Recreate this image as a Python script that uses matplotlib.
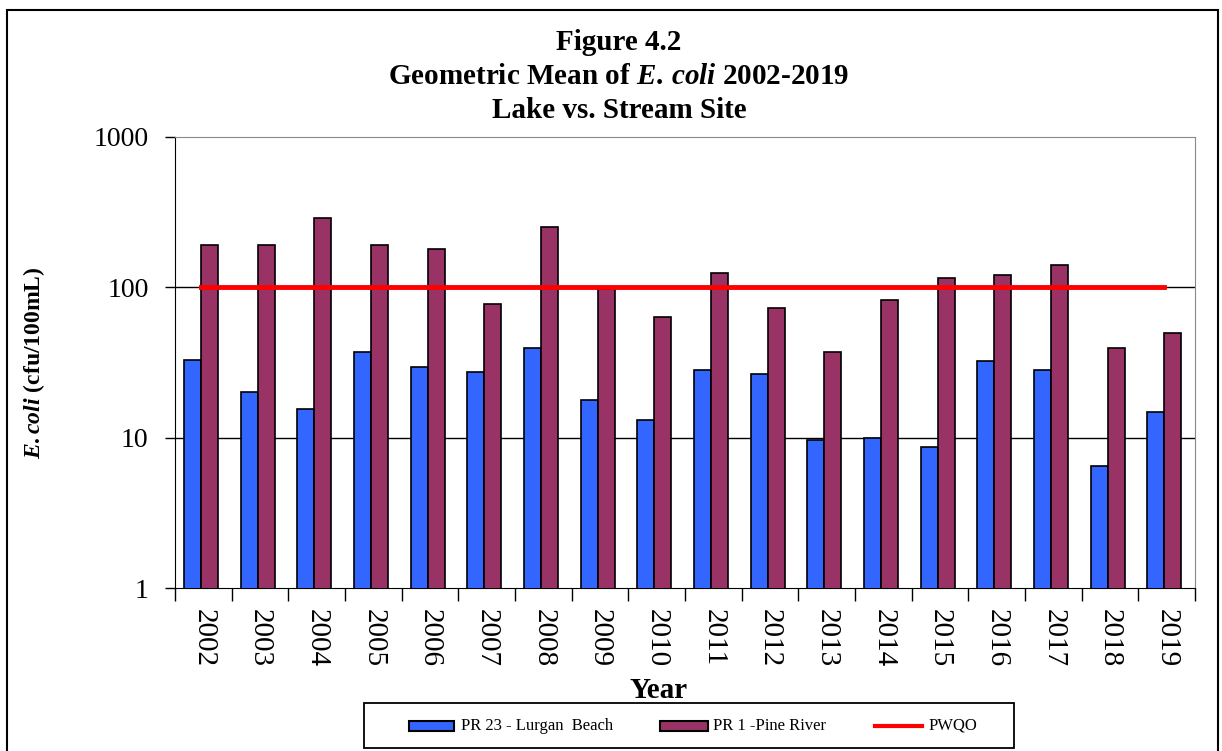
import matplotlib
matplotlib.use("Agg")
import matplotlib.pyplot as plt
import numpy as np
from matplotlib.patches import Rectangle
from matplotlib.lines import Line2D

years = [str(y) for y in range(2002, 2020)]
lurgan = [33.0, 20.0, 15.5, 37.2, 29.7, 27.4, 39.3, 17.9, 13.1, 28.1, 26.7, 9.65, 9.95, 8.63, 32.4, 28.1, 6.5, 14.8]
pine = [190, 190, 291, 190, 180, 77.2, 253, 97, 63.8, 125, 73.3, 37.3, 82.4, 115, 121.6, 140, 39.5, 49.5]
pwqo = [100] * len(years)
series_names = ['PR 23 - Lurgan  Beach', 'PR 1 -Pine River', 'PWQO']
blue, maroon, red = '#3366FF', '#993366', '#FF0000'

plt.rcParams['font.family'] = ['Liberation Serif', 'DejaVu Serif']
plt.rcParams['mathtext.fontset'] = 'custom'
plt.rcParams['mathtext.it'] = 'Liberation Serif:italic:bold'
plt.rcParams['mathtext.rm'] = 'Liberation Serif:bold'
plt.rcParams['mathtext.bf'] = 'Liberation Serif:bold'

W, H = 1222, 751
fig = plt.figure(figsize=(W / 100, H / 100), dpi=100)
ax = fig.add_axes([175 / W, 1 - 588 / H, 1020 / W, 451 / H])

def fx(px):
    return px / W

def fy(py):
    return 1 - py / H

x = np.arange(len(years))
bw = 0.3
off = -0.04
ax.bar(x + off - bw / 2, lurgan, bw, color=blue, edgecolor='black', linewidth=1.2, zorder=3)
ax.bar(x + off + bw / 2, pine, bw, color=maroon, edgecolor='black', linewidth=1.2, zorder=3)
ax.plot(x + off, pwqo, color=red, linewidth=3.5, zorder=4)

ax.set_yscale('log')
ax.set_ylim(1, 1000)
ax.set_xlim(-0.5, len(years) - 0.5)
ax.set_yticks([1, 10, 100, 1000])
ax.set_yticklabels(['1', '10', '100', '1000'])
ax.yaxis.set_minor_locator(matplotlib.ticker.NullLocator())
ax.tick_params(axis='y', labelsize=20, length=7, width=1, direction='out', pad=12)
for v in [10, 100]:
    ax.axhline(v, color='black', linewidth=1, zorder=1)

ax.set_xticks(x)
ax.set_xticklabels(years, rotation=-90, fontsize=21)
ax.tick_params(axis='x', length=0, pad=15)
ax.set_xticks(np.arange(-0.5, len(years), 1), minor=True)
ax.tick_params(axis='x', which='minor', length=9, width=1, direction='out')

for s in ['top', 'right']:
    ax.spines[s].set_color('#888888')
ax.spines['left'].set_color('black')
ax.spines['bottom'].set_color('black')

ax.set_ylabel(r'$\mathit{E.coli}$ (cfu/100mL)', fontsize=17, fontweight='bold')
ax.yaxis.set_label_coords(-0.125, 0.5)
fig.text(fx(659), fy(690), 'Year', ha='center', va='center', fontsize=21, fontweight='bold')

tc = fx(619)
fig.text(tc, fy(43), 'Figure 4.2', ha='center', va='center', fontsize=21, fontweight='bold')
fig.text(tc, fy(76), r'Geometric Mean of $\mathit{E.\,coli}$ 2002-2019', ha='center', va='center', fontsize=21, fontweight='bold')
fig.text(tc, fy(111), 'Lake vs. Stream Site', ha='center', va='center', fontsize=21, fontweight='bold')

# legend box (manual layout)
fig.patches.append(Rectangle((fx(364), fy(748)), fx(1014) - fx(364), fy(703) - fy(748),
                             transform=fig.transFigure, fill=True, facecolor='white',
                             edgecolor='black', linewidth=1.3, zorder=5))
ly = 726
for (x0, x1, tx), col, name, kind in zip([(409, 454, 461), (660, 708, 713), (875, 922, 929)],
                                          [blue, maroon, red], series_names, ['bar', 'bar', 'line']):
    if kind == 'bar':
        fig.patches.append(Rectangle((fx(x0), fy(ly + 5)), fx(x1) - fx(x0), fy(ly - 5) - fy(ly + 5),
                                     transform=fig.transFigure, facecolor=col, edgecolor='black',
                                     linewidth=1.5, zorder=6))
    else:
        fig.lines.append(Line2D([fx(x0), fx(x1)], [fy(ly), fy(ly)], transform=fig.transFigure,
                                color=col, linewidth=3, zorder=6))
    fig.text(fx(tx), fy(ly), name, ha='left', va='center', fontsize=12, zorder=7)

fig.patches.append(Rectangle((7 / W, -0.01), 1211 / W, 1 - 10 / H + 0.01, transform=fig.transFigure,
                             fill=False, edgecolor='black', linewidth=1.5))

fig.savefig('out.png', dpi=100)
